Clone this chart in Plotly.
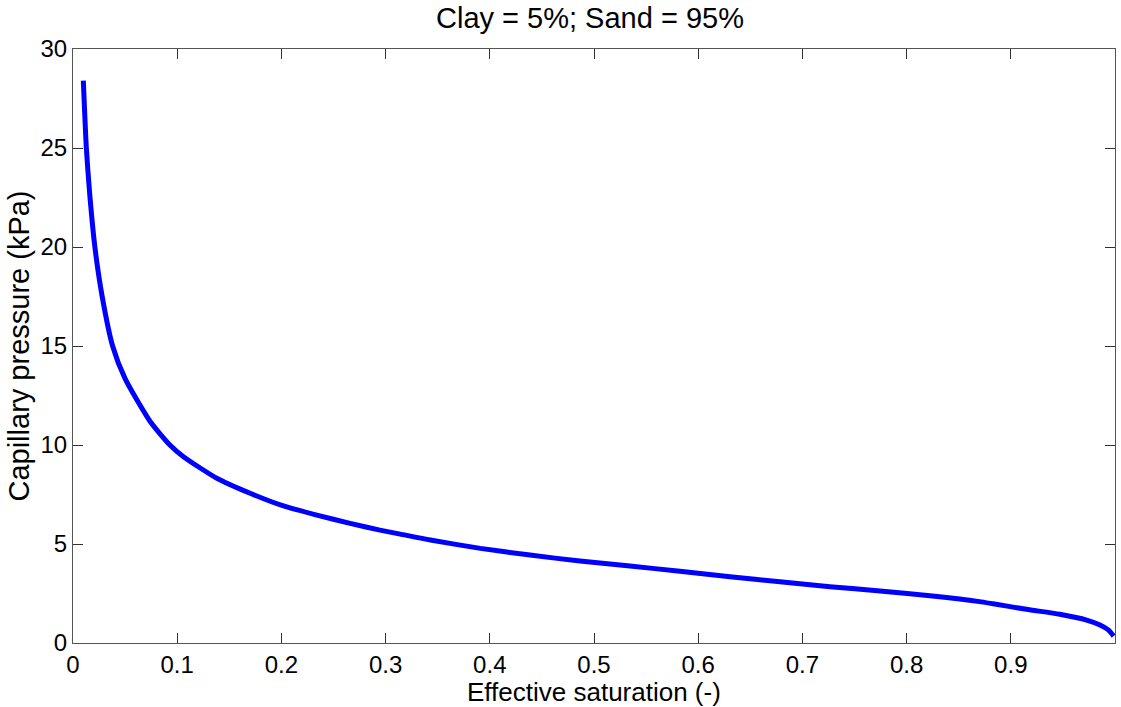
import plotly.graph_objects as go

# Effective saturation (-) and capillary pressure (kPa) for clay 5% / sand 95%
saturation = [0.0099, 0.0128, 0.016, 0.021, 0.028, 0.038, 0.050, 0.0739, 0.093,
              0.106, 0.138, 0.170, 0.202, 0.234, 0.266, 0.2946, 0.314, 0.343,
              0.391, 0.4386, 0.4866, 0.5345, 0.5825, 0.6305, 0.6785, 0.7265,
              0.7745, 0.8225, 0.851, 0.870, 0.883, 0.915, 0.947, 0.9728, 0.9856,
              0.9936, 0.9987]
pressure = [28.4, 25.0, 22.7, 20.0, 17.5, 15.0, 13.35, 11.2, 10.0,
            9.41, 8.32, 7.56, 6.92, 6.46, 6.04, 5.70, 5.50, 5.20,
            4.78, 4.44, 4.14, 3.89, 3.62, 3.35, 3.09, 2.84,
            2.63, 2.39, 2.22, 2.09, 1.98, 1.70, 1.45, 1.16, 0.91,
            0.66, 0.35]

x_ticks = [0, 0.1, 0.2, 0.3, 0.4, 0.5, 0.6, 0.7, 0.8, 0.9, 1]
x_tick_text = ["0", "0.1", "0.2", "0.3", "0.4", "0.5", "0.6", "0.7", "0.8", "0.9", "1"]
y_ticks = [0, 5, 10, 15, 20, 25, 30]

FONT = "Liberation Sans, Arial, sans-serif"

fig = go.Figure()
fig.add_trace(go.Scatter(
    x=saturation, y=pressure, mode="lines",
    line=dict(color="#0000ff", width=5, shape="spline", smoothing=0.6),
    showlegend=False,
))

axis_style = dict(
    showline=True, linecolor="#555555", linewidth=1, mirror="allticks",
    ticks="inside", ticklen=10, tickcolor="#333333", tickwidth=1,
    showgrid=False, zeroline=False,
    tickfont=dict(family=FONT, size=24, color="black"),
)

fig.update_layout(
    width=1121, height=707,
    margin=dict(l=73, r=6, t=49, b=64),
    paper_bgcolor="white", plot_bgcolor="white",
    font=dict(family=FONT, color="black"),
    title=dict(text="Clay = 5%; Sand = 95%", x=590 / 1121, xanchor="center",
               yref="container", y=1 - 18 / 707, yanchor="middle",
               font=dict(family=FONT, size=29, color="black")),
    xaxis=dict(range=[0, 1], tickvals=x_ticks, ticktext=x_tick_text,
               **axis_style),
    yaxis=dict(range=[0, 30], tickvals=y_ticks,
               title=dict(text="Capillary pressure (kPa)", standoff=2,
                          font=dict(family=FONT, size=29, color="black")),
               **axis_style),
)

# x-axis label placed just under the tick labels
fig.add_annotation(
    text="Effective saturation (-)", xref="paper", yref="paper",
    x=0.5, y=0, xanchor="center", yanchor="middle", yshift=-49,
    showarrow=False, font=dict(family=FONT, size=26, color="black"),
)

fig.write_html("out.html")
